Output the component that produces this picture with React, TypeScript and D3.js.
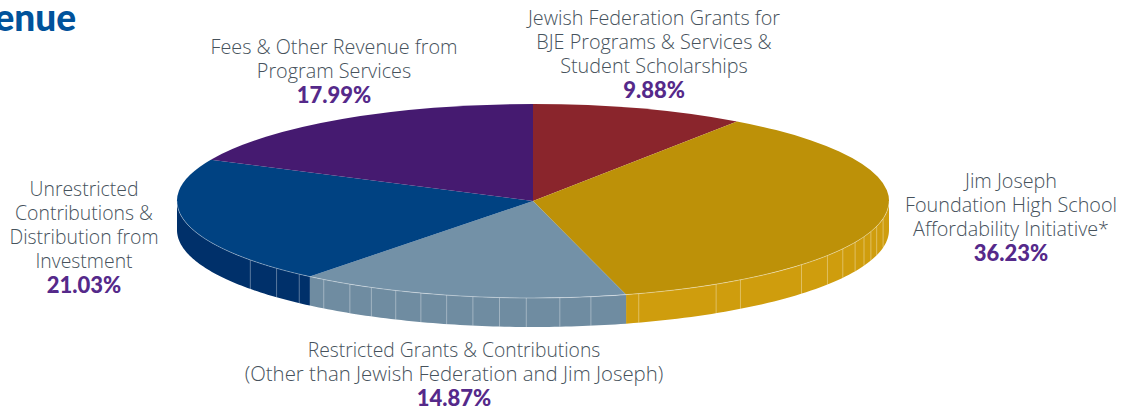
import React from "react";
import * as d3 from "d3";

const categories = [
  "Jewish Federation Grants",
  "Jim Joseph Foundation",
  "Restricted Grants",
  "Unrestricted Contributions",
  "Fees & Other Revenue",
];
// Slice sizes as drawn in the picture; the printed percentages are kept in shareLabels.
const shares = [9.71, 36.08, 14.99, 21.23, 17.99];
const shareLabels = ["9.88%", "36.23%", "14.87%", "21.03%", "17.99%"];
const labelLines = [
  ["Jewish Federation Grants for", "BJE Programs & Services &", "Student Scholarships"],
  ["Jim Joseph", "Foundation High School", "Affordability Initiative*"],
  ["Restricted Grants & Contributions", "(Other than Jewish Federation and Jim Joseph)"],
  ["Unrestricted", "Contributions &", "Distribution from", "Investment"],
  ["Fees & Other Revenue from", "Program Services"],
];
const labelAnchors: [number, number][] = [
  [654, 25],
  [1011, 188],
  [454, 357],
  [84, 196],
  [334, 54],
];
const labelSizes = [19.8, 19.8, 19.3, 19.4, 19.8];
const topColors = ["#8a252c", "#bd9108", "#7391a7", "#004282", "#451a70"];
const sideColors = ["#8a252c", "#cf9d0d", "#6f8ca1", "#00306a", "#451a70"];
const facetShares = [
  64.6, 62.8, 61.4, 60.0, 58.6, 57.5, 56.3, 55.1, 53.9, 52.7, 51.5, 50.3, 48.8, 47.4, 45.2,
  41.4, 40.1, 36.4, 34.5, 33.2, 32.0, 31.0, 30.1, 29.2, 27.9,
];

const W = 1122;
const H = 409;
const cx = 533;
const cy = 201;
const rx = 356;
const ry = 97;
const depth = 29;

const angle = d3.scaleLinear().domain([0, 100]).range([0, 2 * Math.PI]);
const pie = d3.pie<number>().sort(null);
const arcs = pie(shares);
const unitArc = d3.arc<d3.PieArcDatum<number>>().innerRadius(0).outerRadius(1);
const px = (a: number) => cx + rx * Math.sin(a);
const py = (a: number) => cy - ry * Math.cos(a);
const line = d3.line<[number, number]>();

function sidePath(a0: number, a1: number) {
  const lo = Math.max(a0, Math.PI / 2);
  const hi = Math.min(a1, (3 * Math.PI) / 2);
  if (hi <= lo) return null;
  const n = 60;
  const ts = d3.range(n + 1).map((i) => lo + ((hi - lo) * i) / n);
  const upper = ts.map((a) => [px(a), py(a)] as [number, number]);
  const lower = ts.slice().reverse().map((a) => [px(a), py(a) + depth] as [number, number]);
  return line([...upper, ...lower]) + "Z";
}

function rimPath() {
  const ts = d3.range(121).map((i) => Math.PI / 2 + (Math.PI * i) / 120);
  return line(ts.map((a) => [px(a), py(a)] as [number, number])) as string;
}

const labelFont = "'Open Sans', sans-serif";
const pctFont = "Lato, sans-serif";
const lineHeight = 24;

export default function App() {
  return (
    <svg
      width={W}
      height={H}
      viewBox={`0 0 ${W} ${H}`}
      style={{ position: "fixed", left: 0, top: 0, background: "#fff" }}
    >
      <text x={76} y={31} textAnchor="end" fontFamily={pctFont} fontWeight={900} fontSize={37} fill="#00529b">
        Revenue
      </text>
      {arcs.map((d, i) => {
        const p = sidePath(d.startAngle, d.endAngle);
        return p ? <path key={categories[i]} d={p} fill={sideColors[i]} /> : null;
      })}
      {facetShares.map((s) => {
        const a = angle(s);
        return (
          <line
            key={s}
            x1={px(a)}
            x2={px(a)}
            y1={py(a)}
            y2={py(a) + depth}
            stroke="#fff"
            strokeOpacity={0.35}
            strokeWidth={1}
          />
        );
      })}
      <g transform={`translate(${cx},${cy}) scale(${rx},${ry})`}>
        {arcs.map((d, i) => (
          <path key={categories[i]} d={unitArc(d) as string} fill={topColors[i]} />
        ))}
      </g>
      <path d={rimPath()} fill="none" stroke="#fff" strokeOpacity={0.45} strokeWidth={0.8} />
      {labelLines.map((lines, i) => {
        const [x, y] = labelAnchors[i];
        return (
          <text key={categories[i]} textAnchor="middle">
            {lines.map((t, j) => (
              <tspan
                key={t}
                x={x}
                y={y + j * lineHeight}
                fontFamily={labelFont}
                fontWeight={300}
                fontSize={t.startsWith("(") ? 20.4 : labelSizes[i]}
                fill="#46525c"
              >
                {t}
              </tspan>
            ))}
            <tspan
              x={x}
              y={y + lines.length * lineHeight + 0.5}
              fontFamily={pctFont}
              fontWeight={900}
              fontSize={22}
              fill="#55298a"
            >
              {shareLabels[i]}
            </tspan>
          </text>
        );
      })}
    </svg>
  );
}
